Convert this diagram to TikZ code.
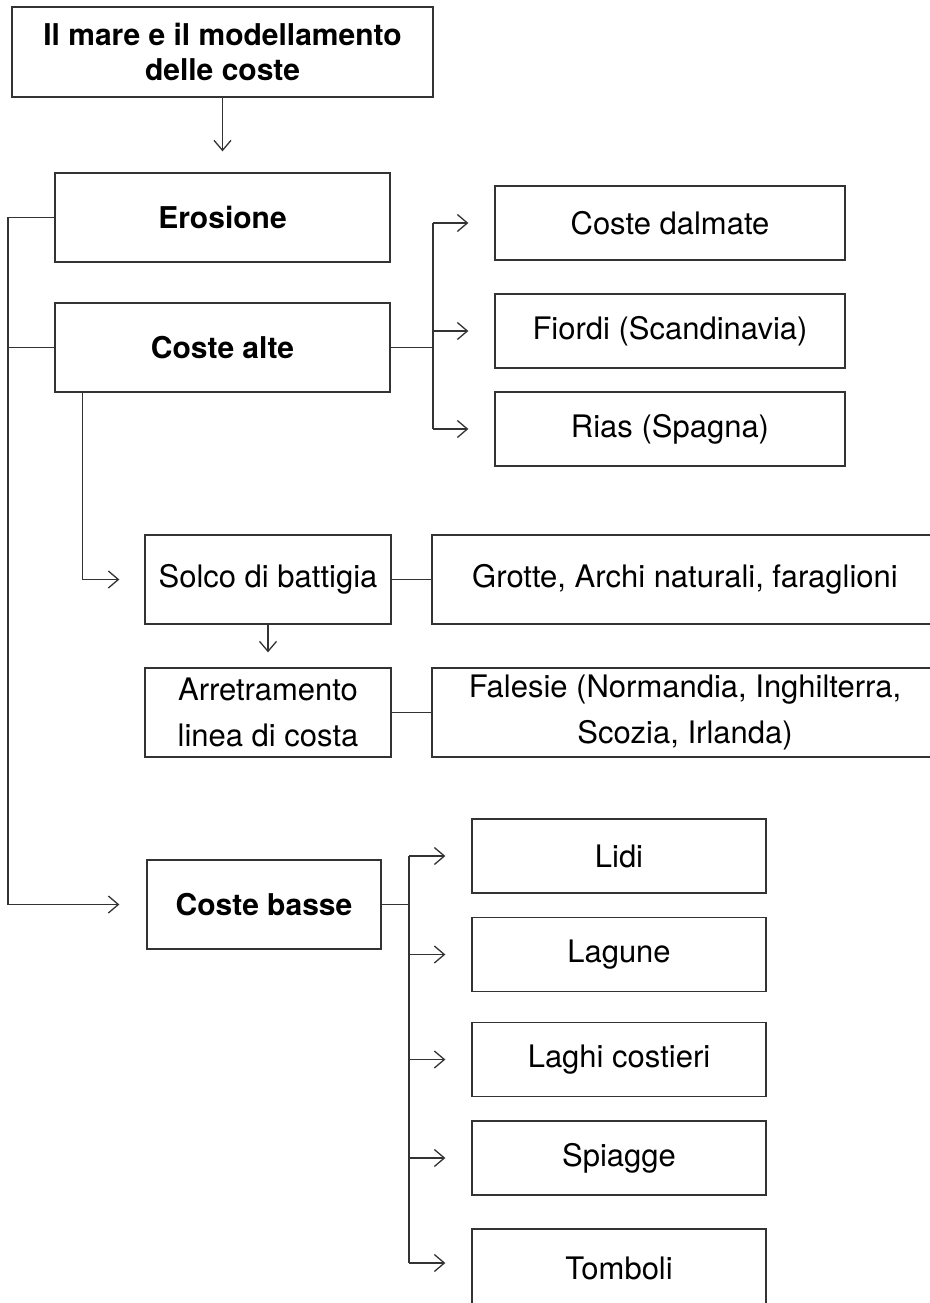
\documentclass[tikz,border=0pt]{standalone}
\usepackage{fontspec}
\setmainfont{TeX Gyre Heros}
\usetikzlibrary{arrows.meta}

\begin{document}
\begin{tikzpicture}[
x=1pt, y=-1pt,
box/.style={
draw=black!80,
line width=1.3pt,
align=center,
inner sep=0pt,
font=\fontsize{31}{46}\selectfont
},
head/.style={
box,
font=\bfseries\fontsize{30}{35}\selectfont
},
arr/.style={
line width=1.3pt,
draw=black!80,
-{Straight Barb[length=10pt,width=17pt,line width=1.3pt]}
}
]
\useasboundingbox (0,0) rectangle (929,1303);

\coordinate (spine) at (8,0);
\coordinate (fork1) at (433,0);
\coordinate (fork2) at (409,0);

\node[head, minimum width=421pt, minimum height=90pt] (T) at (222.5,52)
{Il mare e il modellamento\\delle coste};

\node[head, minimum width=335pt, minimum height=89pt] (E) at (222.5,217.5)
{Erosione};

\node[head, minimum width=335pt, minimum height=89pt] (CA) at (222.5,347.5)
{Coste alte};

\node[box, minimum width=350pt, minimum height=74pt] (D) at (670,223)
{Coste dalmate};

\node[box, minimum width=350pt, minimum height=74pt] (F) at (670,331)
{Fiordi (Scandinavia)};

\node[box, minimum width=350pt, minimum height=74pt] (R) at (670,429)
{Rias (Spagna)};

\node[box, minimum width=246pt, minimum height=89pt] (S) at (268,579.5)
{Solco di battigia};

\node[box, minimum width=506pt, minimum height=89pt] (G) at (685,579.5)
{Grotte, Archi naturali, faraglioni};

\node[box, minimum width=246pt, minimum height=89pt] (A) at (268,712.5)
{Arretramento\\linea di costa};

\node[box, minimum width=506pt, minimum height=89pt] (Fa) at (685,712.5)
{Falesie (Normandia, Inghilterra,\\Scozia, Irlanda)};

\node[head, minimum width=234pt, minimum height=89pt] (CB) at (264,904.5)
{Coste basse};

\node[box, minimum width=294pt, minimum height=74pt] (L1) at (619,856)
{Lidi};

\node[box, minimum width=294pt, minimum height=74pt] (L2) at (619,954.5)
{Lagune};

\node[box, minimum width=294pt, minimum height=74pt] (L3) at (619,1059.5)
{Laghi costieri};

\node[box, minimum width=294pt, minimum height=74pt] (L4) at (619,1158)
{Spiagge};

\node[box, minimum width=294pt, minimum height=78pt] (L5) at (619,1268)
{Tomboli};

\draw[arr, shorten >=21pt] (T) -- (E);

\draw[arr, shorten >=27pt] (E.west) -| (spine |- CB.west) -- (CB.west);
\draw[line width=1.3pt, black!80] (CA.west) -- (CA.west -| spine);

\draw[line width=1.3pt, black!80] (CA.east) -- (CA.east -| fork1);
\draw[line width=1.3pt, black!80] (D.west -| fork1) -- (R.west -| fork1);
\draw[arr, shorten >=26pt] (D.west -| fork1) -- (D.west);
\draw[arr, shorten >=26pt] (F.west -| fork1) -- (F.west);
\draw[arr, shorten >=26pt] (R.west -| fork1) -- (R.west);

\draw[arr, shorten >=25pt] ([xshift=28pt]CA.south west) |- (S.west);
\draw[line width=1.3pt, black!80] (S) -- (G);
\draw[arr, shorten >=15pt] (S) -- (A);
\draw[line width=1.3pt, black!80] (A) -- (Fa);

\draw[line width=1.3pt, black!80] (CB.east) -- (CB.east -| fork2);
\draw[line width=1.3pt, black!80] (L1.west -| fork2) -- ([yshift=5pt]L5.west -| fork2);
\draw[arr, shorten >=26pt] (L1.west -| fork2) -- (L1.west);
\draw[arr, shorten >=26pt] (L2.west -| fork2) -- (L2.west);
\draw[arr, shorten >=26pt] (L3.west -| fork2) -- (L3.west);
\draw[arr, shorten >=26pt] (L4.west -| fork2) -- (L4.west);
\draw[arr, shorten >=26pt] ([yshift=5pt]L5.west -| fork2) -- ([yshift=5pt]L5.west);

\end{tikzpicture}
\end{document}
